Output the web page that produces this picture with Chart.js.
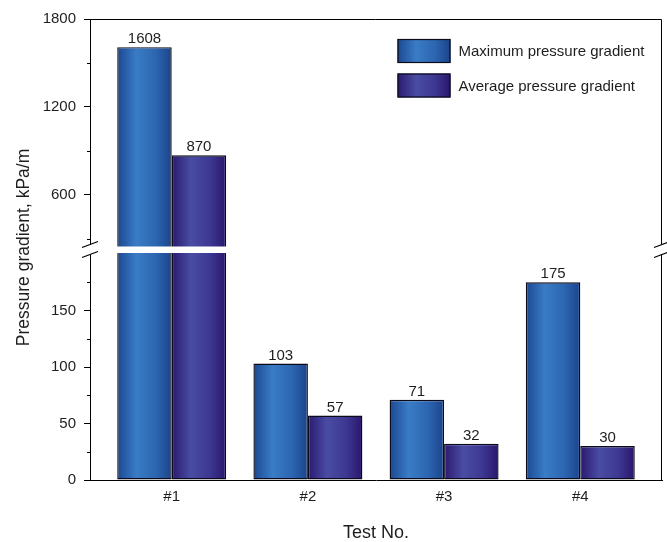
<!DOCTYPE html>
<html><head><meta charset="utf-8">
<script src="https://cdn.jsdelivr.net/npm/chart.js@4.4.1/dist/chart.umd.min.js"></script>
<style>html,body{margin:0;padding:0;background:#fff}#wrap{width:667px;height:542px}</style>
</head><body><div id="wrap"><canvas id="c" width="667" height="542"></canvas></div>
<script>
// ---- data ----
const categories = ['#1', '#2', '#3', '#4'];
const maxGradient = [1608, 103, 71, 175];
const avgGradient = [870, 57, 32, 30];
const seriesNames = ['Maximum pressure gradient', 'Average pressure gradient'];
const lowTicks = [0, 50, 100, 150];
const lowMinorTicks = [25, 75, 125, 175];
const highTicks = [600, 1200, 1800];
const highMinorTicks = [300, 900, 1500];
const lowRange = [0, 204];
const highRange = [228, 1800];
const xTitle = 'Test No.';
const yTitle = 'Pressure gradient, kPa/m';

const TXT = '#1e1e1e';
const EDGE = '#0a0a18';
const FONT = 'Liberation Sans, Arial, Helvetica, sans-serif';
const palettes = [
  [[0, '#1b4891'], [0.35, '#3a7cc6'], [0.7, '#2d66b1'], [1, '#1a448c']],
  [[0, '#2a196f'], [0.35, '#4a4ca3'], [0.7, '#3d3893'], [1, '#29166a']]
];
const CAT_PCT = 0.8;

function makeGrad(ctx, x0, w, series) {
  if (!isFinite(x0) || !isFinite(w) || w <= 0) return palettes[series][1][1];
  const g = ctx.createLinearGradient(x0, 0, x0 + w, 0);
  palettes[series].forEach(s => g.addColorStop(s[0], s[1]));
  return g;
}
function fill(series) {
  return (c) => {
    const chart = c.chart;
    const xs = chart.scales && chart.scales.x;
    if (!xs || c.dataIndex === undefined) return palettes[series][1][1];
    const p0 = xs.getPixelForValue(0), p1 = xs.getPixelForValue(1);
    const step = p1 - p0;
    const group = step * CAT_PCT;
    const center = xs.getPixelForValue(c.dataIndex);
    const x0 = center - group / 2 + series * group / 2;
    return makeGrad(chart.ctx, x0, group / 2, series);
  };
}
const lowPart = vals => vals.map((v, i) => ({x: i, y: [lowRange[0], Math.min(v, lowRange[1])]}));
const highPart = vals => vals.map((v, i) => ({x: i, y: v > highRange[0] ? [highRange[0], v] : null}));

const seriesVals = [maxGradient, avgGradient];
const datasets = [];
seriesVals.forEach((vals, s) => {
  datasets.push({label: seriesNames[s], data: lowPart(vals), yAxisID: 'yLow', stack: 's' + s,
    backgroundColor: fill(s), borderColor: EDGE, borderWidth: 1.4, borderSkipped: false, inflateAmount: 0,
    categoryPercentage: CAT_PCT, barPercentage: 1});
  datasets.push({label: seriesNames[s], data: highPart(vals), yAxisID: 'yHigh', stack: 's' + s,
    backgroundColor: fill(s), borderColor: EDGE, borderWidth: 1.4, borderSkipped: false, inflateAmount: 0,
    categoryPercentage: CAT_PCT, barPercentage: 1});
});

const decorPlugin = {
  id: 'decor',
  afterDatasetsDraw(chart) {
    const ctx = chart.ctx;
    ctx.save();
    ctx.font = '15px ' + FONT;
    ctx.fillStyle = TXT;
    ctx.textAlign = 'center';
    ctx.textBaseline = 'alphabetic';
    seriesVals.forEach((vals, s) => {
      vals.forEach((v, i) => {
        const dsIndex = v > highRange[0] ? s * 2 + 1 : s * 2;
        const el = chart.getDatasetMeta(dsIndex).data[i];
        if (el) ctx.fillText(String(v), el.x, el.y - 4);
      });
    });
    ctx.restore();
  },
  afterDraw(chart) {
    const ctx = chart.ctx;
    const a = chart.chartArea;
    const yl = chart.scales.yLow, yh = chart.scales.yHigh;
    const breakY = yh.bottom;
    ctx.save();
    ctx.strokeStyle = '#000';
    ctx.lineWidth = 1;
    const rx = Math.round(a.right) - 0.5, ty = Math.round(a.top) + 0.5;
    ctx.beginPath();
    ctx.moveTo(a.left, ty); ctx.lineTo(rx, ty);
    ctx.moveTo(rx, ty); ctx.lineTo(rx, a.bottom);
    ctx.stroke();
    const lx = Math.round(a.left) + 0.5;
    ctx.beginPath();
    lowMinorTicks.forEach(v => { const y = Math.round(yl.getPixelForValue(v)) + 0.5; ctx.moveTo(lx - 3.5, y); ctx.lineTo(lx, y); });
    highMinorTicks.forEach(v => { const y = Math.round(yh.getPixelForValue(v)) + 0.5; ctx.moveTo(lx - 3.5, y); ctx.lineTo(lx, y); });
    ctx.stroke();
    ctx.fillStyle = '#fff';
    ctx.fillRect(a.left - 2, breakY - 3, a.right - a.left + 4, 6.5);
    ctx.fillRect(a.left - 2, breakY - 5, 4, 10);
    ctx.fillRect(a.right - 2, breakY - 5, 4, 10);
    ctx.strokeStyle = '#000';
    ctx.lineWidth = 1.2;
    [a.left, a.right].forEach(x => {
      [-5, 5].forEach(d => {
        ctx.beginPath();
        ctx.moveTo(x - 8, breakY + d + 3);
        ctx.lineTo(x + 8, breakY + d - 3);
        ctx.stroke();
      });
    });
    const lgX = a.right - 264.5;
    const rows = [a.top + 20, a.top + 54.5];
    ctx.font = '15px ' + FONT;
    ctx.textAlign = 'left';
    ctx.textBaseline = 'middle';
    rows.forEach((y, s) => {
      ctx.fillStyle = makeGrad(ctx, lgX, 53, s);
      ctx.fillRect(lgX, y, 53, 24);
      ctx.strokeStyle = EDGE;
      ctx.lineWidth = 1.2;
      ctx.strokeRect(lgX + 0.5, y + 0.5, 52, 23);
      ctx.fillStyle = TXT;
      ctx.fillText(seriesNames[s], lgX + 61, y + 13);
    });
    ctx.translate(24, (a.top + a.bottom) / 2 - 2);
    ctx.rotate(-Math.PI / 2);
    ctx.font = '17.5px ' + FONT;
    ctx.textAlign = 'center';
    ctx.textBaseline = 'middle';
    ctx.fillStyle = TXT;
    ctx.fillText(yTitle, 0, 0);
    ctx.restore();
  }
};

const yCommon = {
  type: 'linear', position: 'left', stack: 'v', stackWeight: 1, stacked: false,
  grid: {drawOnChartArea: false, drawTicks: true, tickLength: 6, color: '#000'},
  border: {display: true, color: '#000', width: 1},
  ticks: {padding: 8, color: TXT, font: {size: 15, family: FONT}, autoSkip: false, callback: v => String(v)},
  afterFit: s => { s.width = 90; }
};

new Chart(document.getElementById('c'), {
  type: 'bar',
  data: {datasets},
  options: {
    responsive: false, animation: false, devicePixelRatio: 1,
    layout: {padding: {top: 19, right: 5, left: 0, bottom: 0}},
    plugins: {legend: {display: false}, tooltip: {enabled: false}},
    scales: {
      x: {
        type: 'linear', position: 'bottom', min: -0.6, max: 3.6, offset: false,
        grid: {display: true, drawOnChartArea: false, drawTicks: false},
        border: {display: true, color: '#000', width: 1},
        ticks: {padding: 8, color: TXT, font: {size: 15, family: FONT}, autoSkip: false,
          callback: v => categories[v] !== undefined ? categories[v] : ''},
        afterBuildTicks: s => { s.ticks = categories.map((_, i) => ({value: i})); },
        title: {display: true, text: xTitle, color: TXT, font: {size: 18, family: FONT, lineHeight: 1}, padding: 0},
        afterFit: s => { s.height = 62; }
      },
      yLow: Object.assign({}, yCommon, {
        min: lowRange[0], max: lowRange[1],
        afterBuildTicks: s => { s.ticks = lowTicks.map(v => ({value: v})); }
      }),
      yHigh: Object.assign({}, yCommon, {
        min: highRange[0], max: highRange[1],
        afterBuildTicks: s => { s.ticks = highTicks.map(v => ({value: v})); }
      })
    }
  },
  plugins: [decorPlugin]
});
</script></body></html>
